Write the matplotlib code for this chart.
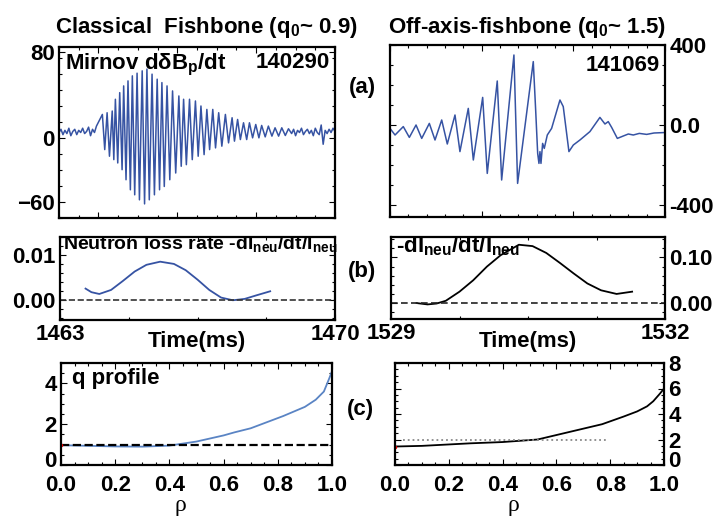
import matplotlib
matplotlib.use('Agg')
import matplotlib.pyplot as plt
from matplotlib import font_manager
import matplotlib.transforms as mtransforms
import numpy as np

# fonts: bold sans like the original IDL/Helvetica look
names = {f.name for f in font_manager.fontManager.ttflist}
sans = 'Liberation Sans Narrow' if 'Liberation Sans Narrow' in names else 'Liberation Sans'
plt.rcParams['font.family'] = [sans, 'DejaVu Sans']
plt.rcParams['font.weight'] = 'bold'
plt.rcParams['axes.labelweight'] = 'bold'
plt.rcParams['mathtext.fontset'] = 'custom'
plt.rcParams['mathtext.rm'] = sans + ':bold'
plt.rcParams['mathtext.it'] = sans + ':bold'
plt.rcParams['mathtext.bf'] = sans + ':bold'

# ---- (a) left: Mirnov signal, shot 140290 ----
pre_t = [1463.00, 1463.05, 1463.10, 1463.15, 1463.20, 1463.25, 1463.30, 1463.35, 1463.40, 1463.45,
         1463.50, 1463.55, 1463.60, 1463.65, 1463.70, 1463.75, 1463.80, 1463.85, 1463.90, 1463.95]
pre_v = [5, 8, 3, 7, 4, 9, 2, 6, 8, 3, 7, 5, 9, 4, 6, 10, 2, 8, 5, 11]
peak_t = [1464.10, 1464.22, 1464.35, 1464.43, 1464.54, 1464.64, 1464.75, 1464.86, 1464.98, 1465.11,
          1465.23, 1465.36, 1465.49, 1465.61, 1465.74, 1465.88, 1466.04, 1466.16, 1466.31, 1466.46,
          1466.60, 1466.75, 1466.90, 1467.05, 1467.22, 1467.39, 1467.53, 1467.68, 1467.83, 1467.99,
          1468.14, 1468.31, 1468.48, 1468.65, 1468.82]
peak_v = [21.9, 23.5, 25.1, 36.1, 42.3, 48.6, 53.3, 58.0, 60.5, 62.7,
          64.3, 59.6, 54.9, 51.7, 48.6, 43.9, 39.2, 36.1, 36.1, 34.5,
          29.8, 26.6, 26.6, 23.5, 21.9, 18.8, 17.2, 14.1, 14.1, 12.5,
          11.6, 11.0, 9.4, 9.4, 8.5]
trough_t = [1464.16, 1464.28, 1464.39, 1464.49, 1464.60, 1464.70, 1464.81, 1464.92, 1465.04, 1465.17,
            1465.29, 1465.42, 1465.55, 1465.67, 1465.81, 1465.96, 1466.10, 1466.23, 1466.38, 1466.53,
            1466.68, 1466.82, 1466.97, 1467.13, 1467.30, 1467.45, 1467.60, 1467.76, 1467.91, 1468.07,
            1468.23, 1468.40, 1468.57, 1468.74]
trough_v = [-11.0, -17.2, -20.4, -23.5, -29.8, -39.2, -48.6, -53.3, -58.0, -61.8,
            -58.0, -53.3, -48.6, -45.5, -39.2, -32.9, -26.6, -25.1, -20.4, -17.2,
            -15.7, -11.0, -9.4, -7.8, -4.7, -3.1, -1.6, -1.6, 0.0, 0.0,
            0.9, 1.6, 1.6, 2.2]
post_t = [1468.90, 1468.95, 1469.00, 1469.05, 1469.10, 1469.15, 1469.20, 1469.25, 1469.30, 1469.35,
          1469.40, 1469.45, 1469.50, 1469.55, 1469.60, 1469.65, 1469.70, 1469.75, 1469.80, 1469.85,
          1469.90, 1469.95, 1470.00]
post_v = [4, 8, 2, 7, 5, 9, 3, 6, 8, 4, 7, 2, 9, 5, 3, 12, -6, 7, 4, 8, 5, 9, 6]

# ---- (a) right: Mirnov signal, shot 141069 ----
off_t = [1529.000, 1529.055, 1529.145, 1529.211, 1529.284, 1529.346, 1529.429, 1529.491, 1529.564, 1529.625,
         1529.709, 1529.763, 1529.854, 1529.909, 1530.011, 1530.061, 1530.170, 1530.218, 1530.352, 1530.392,
         1530.563, 1530.589, 1530.611, 1530.625, 1530.636, 1530.647, 1530.665, 1530.683, 1530.716, 1530.763,
         1530.854, 1530.890, 1530.952, 1531.000, 1531.072, 1531.181, 1531.290, 1531.345, 1531.381, 1531.418,
         1531.480, 1531.545, 1531.600, 1531.654, 1531.720, 1531.800, 1531.880, 1531.981]
off_v = [-17, -50, -8, -62, 0, -67, 8, -75, 25, -95,
         50, -133, 83, -175, 138, -242, 220, -275, 350, -292,
         317, 75, -142, -192, -133, -192, -92, -117, -50, -17,
         125, 92, -133, -100, -75, -33, 38, 5, 17, -12,
         -67, -55, -45, -50, -42, -47, -40, -38]

# ---- (b) neutron loss rate ----
nl_t = [1463.65, 1463.80, 1464.00, 1464.30, 1464.60, 1464.90, 1465.20, 1465.55, 1465.90,
        1466.20, 1466.50, 1466.80, 1467.10, 1467.40, 1467.70, 1468.00, 1468.35]
nl_v = [0.0025, 0.0017, 0.0013, 0.0022, 0.0042, 0.0063, 0.0078, 0.0085, 0.0080,
        0.0066, 0.0045, 0.0022, 0.0005, -0.0001, 0.0002, 0.0010, 0.0019]
nr_t = [1529.28, 1529.40, 1529.50, 1529.60, 1529.75, 1529.90, 1530.05, 1530.20, 1530.40,
        1530.55, 1530.70, 1530.85, 1531.00, 1531.15, 1531.30, 1531.47, 1531.64]
nr_v = [0.000, -0.003, -0.001, 0.005, 0.025, 0.050, 0.080, 0.105, 0.128,
        0.125, 0.110, 0.088, 0.065, 0.043, 0.028, 0.020, 0.025]

# ---- (c) q profiles ----
ql_rho = [0.0, 0.1, 0.2, 0.3, 0.4, 0.5, 0.6, 0.64, 0.7, 0.82, 0.9, 0.94, 0.97, 0.99, 1.0]
ql_q = [0.97, 0.94, 0.91, 0.90, 0.95, 1.15, 1.45, 1.6, 1.8, 2.4, 2.85, 3.2, 3.6, 4.25, 4.6]
qr_rho = [0.0, 0.1, 0.28, 0.4, 0.53, 0.65, 0.77, 0.85, 0.9, 0.937, 0.96, 0.985, 1.0]
qr_q = [1.45, 1.5, 1.7, 1.8, 2.0, 2.6, 3.2, 3.8, 4.2, 4.6, 5.0, 5.6, 6.0]

blue = '#3653a3'
fs_tick = 16
fs_txt = 16

fig = plt.figure(figsize=(7.23, 5.16), dpi=100)
W, H = 723.0, 516.0


def add_ax(x0, y0, x1, y1):
    return fig.add_axes([x0 / W, 1 - y1 / H, (x1 - x0) / W, (y1 - y0) / H])


def style(ax, right=False):
    ax.minorticks_on()
    ax.tick_params(which='both', direction='in', top=True, right=True, left=True, bottom=True,
                   labelsize=fs_tick, width=0.8, pad=3)
    ax.tick_params(which='major', length=4)
    ax.tick_params(which='minor', length=2)
    if right:
        ax.tick_params(labelleft=False, labelright=True)
    for s in ax.spines.values():
        s.set_linewidth(1.6)


axA1 = add_ax(59, 47, 335, 218)
axA2 = add_ax(390, 45, 665, 217)
axB1 = add_ax(60, 237, 335, 320)
axB2 = add_ax(391, 237, 665, 319)
axC1 = add_ax(61, 363, 332, 465)
axC2 = add_ax(395, 363, 664, 465)

# (a) left
ext_t = sorted(peak_t + trough_t)
ext = dict(zip(peak_t, peak_v))
ext.update(zip(trough_t, trough_v))
sig_t = pre_t + ext_t + post_t
sig_v = pre_v + [ext[t] for t in ext_t] + post_v
axA1.plot(sig_t, sig_v, color=blue, lw=1.1)
axA1.set_xlim(1463, 1470)
axA1.set_ylim(-75, 85)
axA1.set_yticks([-60, 0, 80])
axA1.set_xticklabels([])
style(axA1)
axA1.text(0.02, 0.97, 'Mirnov d\u03b4B$_\\mathregular{p}$/dt', transform=axA1.transAxes,
          ha='left', va='top', fontsize=fs_txt)
axA1.text(0.98, 0.97, '140290', transform=axA1.transAxes, ha='right', va='top', fontsize=fs_txt)

# (a) right
axA2.plot(off_t, off_v, color=blue, lw=1.1)
axA2.set_xlim(1529, 1532)
axA2.set_ylim(-460, 400)
axA2.set_yticks([-400, 0, 400])
axA2.set_yticklabels(['-400', '0.0', '400'])
axA2.set_xticklabels([])
style(axA2, right=True)
axA2.text(0.98, 0.94, '141069', transform=axA2.transAxes, ha='right', va='top', fontsize=fs_txt)

# (b) left
axB1.plot(nl_t, nl_v, color=blue, lw=1.3)
axB1.axhline(0, color='#333333', ls='--', lw=1.2)
axB1.set_xlim(1463, 1470)
axB1.set_ylim(-0.0045, 0.014)
axB1.set_yticks([0.0, 0.01])
axB1.set_yticklabels(['0.00', '0.01'])
axB1.set_xticks([1463, 1470])
style(axB1)
axB1.text(0.01, 1.04, 'Neutron loss rate -dI$_\\mathregular{neu}$/dt/I$_\\mathregular{neu}$',
          transform=axB1.transAxes, ha='left', va='top', fontsize=fs_txt - 2)

# (b) right
axB2.plot(nr_t, nr_v, color='black', lw=1.3)
axB2.axhline(0, color='#222222', ls=(0, (4, 2)), lw=1.2)
axB2.set_xlim(1529, 1532)
axB2.set_ylim(-0.035, 0.145)
axB2.set_yticks([0.0, 0.10])
axB2.set_yticklabels(['0.00', '0.10'])
axB2.set_xticks([1529, 1532])
style(axB2, right=True)
axB2.text(0.02, 1.03, '-dI$_\\mathregular{neu}$/dt/I$_\\mathregular{neu}$',
          transform=axB2.transAxes, ha='left', va='top', fontsize=fs_txt)

# (c) left
axC1.plot(ql_rho, ql_q, color='#5a84c4', lw=1.3)
axC1.axhline(1, color='black', ls='--', lw=1.6)
axC1.plot([0], [ql_q[0]], 'o', color='red', ms=1.5)
axC1.set_xlim(0, 1)
axC1.set_ylim(0, 5)
axC1.set_yticks([0, 2, 4])
axC1.set_xticks([0, 0.2, 0.4, 0.6, 0.8, 1.0])
axC1.set_xticklabels(['0.0', '0.2', '0.4', '0.6', '0.8', '1.0'])
style(axC1)
axC1.tick_params(axis='x', pad=7)
axC1.text(0.04, 0.95, 'q profile', transform=axC1.transAxes, ha='left', va='top', fontsize=fs_txt)

# (c) right
axC2.plot(qr_rho, qr_q, color='black', lw=1.3)
axC2.plot([0.03, 0.79], [2, 2], color='#888888', ls=':', lw=1.3)
axC2.plot([0], [qr_q[0]], 'o', color='red', ms=1.5)
axC2.set_xlim(0, 1)
axC2.set_ylim(0, 8)
axC2.set_yticks([0, 2, 4, 6, 8])
axC2.set_xticks([0, 0.2, 0.4, 0.6, 0.8, 1.0])
axC2.set_xticklabels(['0.0', '0.2', '0.4', '0.6', '0.8', '1.0'])
style(axC2, right=True)
axC2.tick_params(axis='x', pad=7)

# lift the "0" labels of the q plots so they clear the rho labels
lift = mtransforms.ScaledTranslation(0, 4 / 72, fig.dpi_scale_trans)
for ax in (axC1, axC2):
    for lab in ax.get_yticklabels():
        if lab.get_text() == '0':
            lab.set_transform(lab.get_transform() + lift)

# axis labels placed like the original
fig.text(197 / W, 1 - 342 / H, 'Time(ms)', ha='center', va='center', fontsize=fs_tick)
fig.text(528 / W, 1 - 341 / H, 'Time(ms)', ha='center', va='center', fontsize=fs_tick)
fig.text(180 / W, 1 - 505 / H, '\u03c1', ha='center', va='center', family='Liberation Serif',
         fontweight='normal', fontsize=17)
fig.text(513 / W, 1 - 505 / H, '\u03c1', ha='center', va='center', family='Liberation Serif',
         fontweight='normal', fontsize=17)

# titles and panel tags
fig.text(55 / W, 1 - 28 / H, 'Classical  Fishbone (q$_\\mathregular{0}$~ 0.9)', ha='left', va='center',
         fontsize=fs_txt)
fig.text(388 / W, 1 - 28 / H, 'Off-axis-fishbone (q$_\\mathregular{0}$~ 1.5)', ha='left', va='center',
         fontsize=fs_txt)
fig.text(362 / W, 1 - 88 / H, '(a)', ha='center', va='center', fontsize=fs_txt)
fig.text(362 / W, 1 - 272 / H, '(b)', ha='center', va='center', fontsize=fs_txt)
fig.text(360 / W, 1 - 410 / H, '(c)', ha='center', va='center', fontsize=fs_txt)

fig.savefig('out.png', dpi=100)
